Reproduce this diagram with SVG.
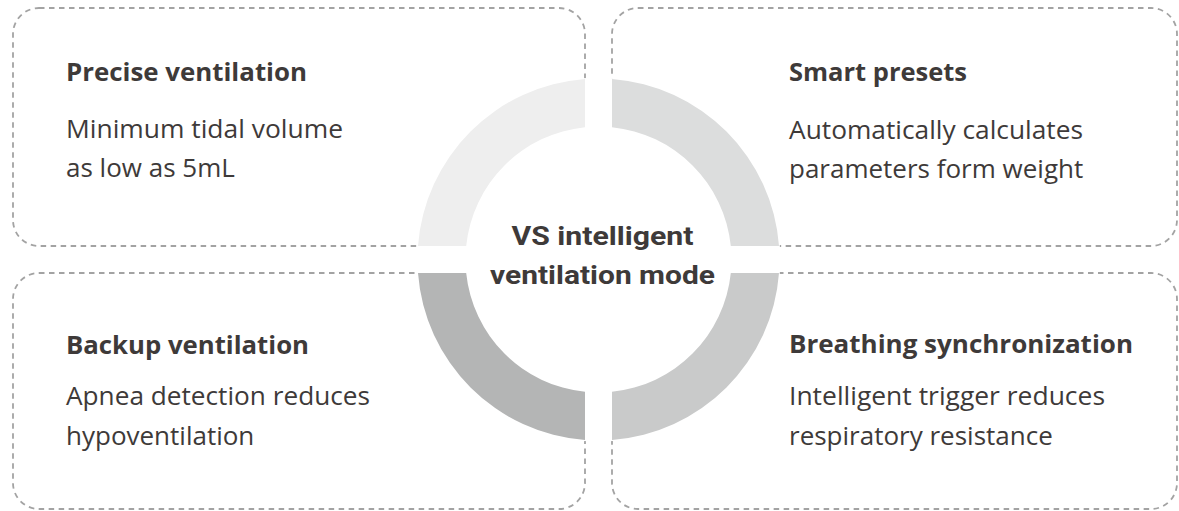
<svg xmlns="http://www.w3.org/2000/svg" width="1179" height="511" viewBox="0 0 1179 511">
<style>
.box{fill:none;stroke:#a3a3a3;stroke-width:1.8;stroke-dasharray:5.5 4.5}
.h{font-family:"Open Sans","Noto Sans",sans-serif;font-weight:700;font-size:25.5px;fill:#3e3a39}
.b{font-family:"Open Sans","Noto Sans",sans-serif;font-weight:400;font-size:26px;fill:#3e3a39}
.c{font-family:Roboto,"Liberation Sans",sans-serif;font-weight:700;font-size:26px;fill:#3e3a39;text-anchor:middle}
</style>
<rect width="1179" height="511" fill="#ffffff"/>
<g id="node-precise">
<rect class="box" x="13" y="8" width="572" height="238" rx="26"/>
<text class="h" x="66" y="81" textLength="241" lengthAdjust="spacingAndGlyphs">Precise ventilation</text>
<text class="b" x="66" y="138" textLength="277" lengthAdjust="spacingAndGlyphs">Minimum tidal volume</text>
<text class="b" x="66" y="177">as low as 5mL</text>
</g>
<g id="node-smart">
<rect class="box" x="612" y="8" width="565" height="238" rx="26"/>
<text class="h" x="789" y="81" textLength="178" lengthAdjust="spacingAndGlyphs">Smart presets</text>
<text class="b" x="789" y="139" textLength="294" lengthAdjust="spacingAndGlyphs">Automatically calculates</text>
<text class="b" x="789" y="178">parameters form weight</text>
</g>
<g id="node-backup">
<rect class="box" x="13" y="273" width="572" height="236" rx="26"/>
<text class="h" x="66" y="354" textLength="243" lengthAdjust="spacingAndGlyphs">Backup ventilation</text>
<text class="b" x="66" y="405" textLength="304" lengthAdjust="spacingAndGlyphs">Apnea detection reduces</text>
<text class="b" x="66" y="445">hypoventilation</text>
</g>
<g id="node-breathing">
<rect class="box" x="612" y="273" width="565" height="236" rx="26"/>
<text class="h" x="789" y="353" textLength="344" lengthAdjust="spacingAndGlyphs">Breathing synchronization</text>
<text class="b" x="789" y="405" textLength="316" lengthAdjust="spacingAndGlyphs">Intelligent trigger reduces</text>
<text class="b" x="789" y="445">respiratory resistance</text>
</g>
<g id="node-center">
<circle cx="598.5" cy="259.5" r="182" fill="#ffffff"/>
<path d="M585,79 A181,181 0 0 0 418,246 L466.19,246 A133,133 0 0 1 585,127.19 Z" fill="#eeeeee"/>
<path d="M612,79 A181,181 0 0 1 779,246 L730.81,246 A133,133 0 0 0 612,127.19 Z" fill="#dcdddd"/>
<path d="M418,273 A181,181 0 0 0 585,440 L585,391.81 A133,133 0 0 1 466.19,273 Z" fill="#b4b5b5"/>
<path d="M612,440 A181,181 0 0 0 779,273 L730.81,273 A133,133 0 0 1 612,391.81 Z" fill="#c9caca"/>
<text class="c" x="602.5" y="245" textLength="182" lengthAdjust="spacingAndGlyphs">VS intelligent</text>
<text class="c" x="602.5" y="284" textLength="225" lengthAdjust="spacingAndGlyphs">ventilation mode</text>
</g>
<g id="connectors"></g>
</svg>
